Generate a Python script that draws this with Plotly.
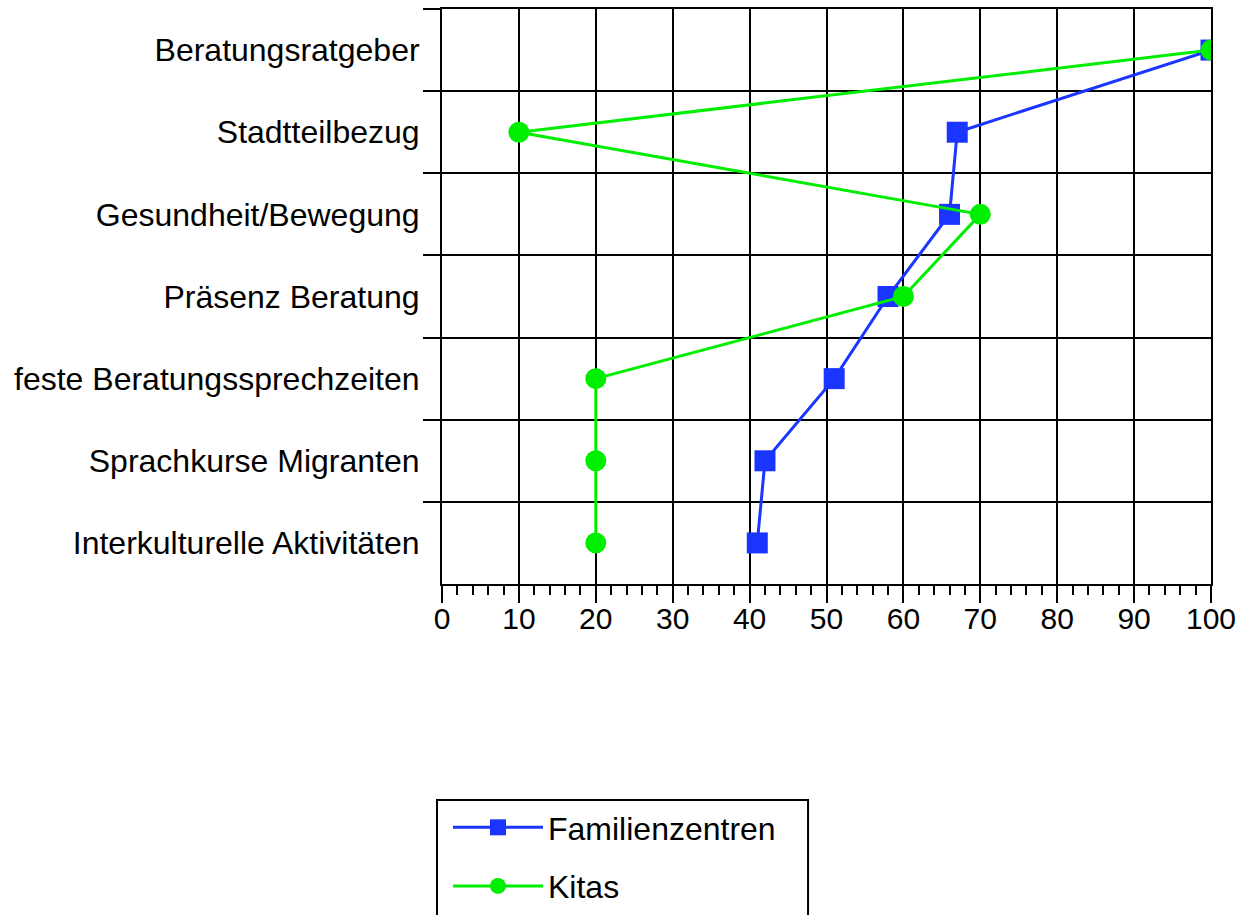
import plotly.graph_objects as go

categories = [
    "Beratungsratgeber",
    "Stadtteilbezug",
    "Gesundheit/Bewegung",
    "Präsenz Beratung",
    "feste Beratungssprechzeiten",
    "Sprachkurse Migranten",
    "Interkulturelle Aktivitäten",
]
familienzentren = [100, 67, 66, 58, 51, 42, 41]
kitas = [100, 10, 70, 60, 20, 20, 20]
x_ticks = [0, 10, 20, 30, 40, 50, 60, 70, 80, 90, 100]

BLUE = "#1a35ff"
GREEN = "#00ee00"
FONT = "Liberation Sans, Arial, Helvetica, sans-serif"

fig = go.Figure()
fig.add_trace(go.Scatter(
    x=familienzentren, y=categories, name="Familienzentren",
    mode="lines+markers", legendgroup="a",
    line=dict(color=BLUE, width=3),
    marker=dict(symbol="square", size=21, color=BLUE),
))
fig.add_trace(go.Scatter(
    x=kitas, y=categories, name="Kitas",
    mode="lines+markers", legendgroup="b",
    line=dict(color=GREEN, width=3),
    marker=dict(symbol="circle", size=21, color=GREEN),
))

# legend frame (decoration, paper coordinates)
fig.add_shape(
    type="rect", xref="paper", yref="paper",
    x0=-0.0065, x1=0.476, y0=-0.65, y1=-0.3757,
    line=dict(color="black", width=2), fillcolor="rgba(0,0,0,0)",
    layer="above",
)

fig.update_layout(
    width=1240, height=915,
    margin=dict(l=442, r=29, t=9, b=331, autoexpand=False),
    paper_bgcolor="white", plot_bgcolor="white",
    font=dict(family=FONT, size=30, color="black"),
    showlegend=True,
    legend=dict(
        x=(448 - 442) / 769, xanchor="left", y=-0.3757, yanchor="top",
        borderwidth=0, bgcolor="rgba(0,0,0,0)",
        font=dict(size=32), tracegroupgap=14, itemwidth=90,
        traceorder="grouped",
    ),
    xaxis=dict(
        range=[0, 100], tickvals=x_ticks, ticktext=[str(v) for v in x_ticks],
        showgrid=True, gridcolor="black", gridwidth=2,
        showline=True, linecolor="black", linewidth=2, mirror=True,
        ticks="outside", ticklen=17, tickwidth=2, tickcolor="black",
        minor=dict(dtick=2, tick0=0, ticks="outside", ticklen=9, tickwidth=2,
                   tickcolor="black", showgrid=False),
        zeroline=False, fixedrange=True, automargin=False,
        ticklabeloverflow="allow",
        tickfont=dict(size=30), ticklabelstandoff=-10,
    ),
    yaxis=dict(
        type="category", categoryorder="array", categoryarray=categories,
        range=[6.5, -0.5], tickson="boundaries",
        showgrid=True, gridcolor="black", gridwidth=2,
        showline=True, linecolor="black", linewidth=2, mirror=True,
        ticks="outside", ticklen=17, tickwidth=2, tickcolor="black",
        zeroline=False, fixedrange=True, automargin=False,
        tickfont=dict(size=32), ticklabelstandoff=14,
    ),
)

fig.write_html("out.html", config={"displayModeBar": False},
               post_script="document.body.style.margin='0';")
